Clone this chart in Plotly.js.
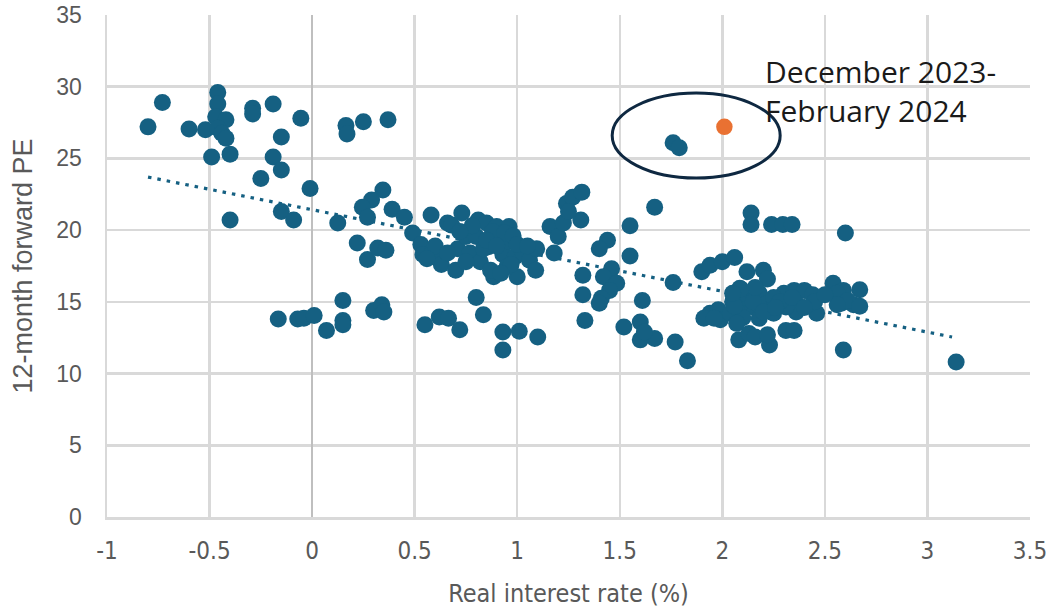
<!DOCTYPE html>
<html>
<head>
<meta charset="utf-8">
<script src="https://cdn.plot.ly/plotly-3.0.1.min.js"></script>
<style>
html,body{margin:0;padding:0;background:#fff;}
#chart{width:1056px;height:613px;}
</style>
</head>
<body>
<div id="chart"></div>
<script>
// Real interest rate (%) per month
const realRate = [
  -0.80,-0.73,-0.60,-0.52,-0.46,-0.46,-0.47,-0.42,-0.46,-0.44,-0.42,-0.49,-0.40,-0.29,-0.29,-0.19,-0.055,-0.15,-0.19,-0.15,
  -0.25,-0.01,-0.15,-0.09,-0.40,0.125,0.165,0.17,0.25,0.37,0.345,0.29,0.245,0.27,0.39,0.45,0.22,0.27,0.32,0.36,
  -0.165,-0.07,-0.04,0.01,0.07,0.15,0.15,0.15,0.30,0.34,0.35,
  0.55,0.62,0.665,0.72,0.80,0.835,0.93,0.93,1.01,1.10,
  0.49,0.53,0.54,0.58,0.59,0.63,0.63,0.66,0.68,0.70,0.73,0.71,0.75,0.77,0.81,0.82,0.85,0.86,0.885,0.90,
  0.92,0.93,0.96,0.965,0.99,1.00,1.03,1.06,1.095,1.09,0.95,0.87,0.80,0.835,
  0.88,0.94,0.85,0.78,0.98,1.00,0.90,0.72,0.60,0.66,0.56,1.05,0.75,0.97,0.92,
  1.18,1.16,1.20,1.225,1.24,1.27,1.315,1.31,1.25,1.32,1.32,1.33,
  1.67,1.55,1.44,1.40,1.55,1.46,1.42,1.485,1.45,1.41,1.40,1.61,1.52,1.60,1.60,1.67,1.77,1.83,1.76,1.62,
  2.14,2.14,2.24,2.295,2.34,2.60,
  1.90,1.94,2.00,2.06,2.12,2.20,2.22,2.085,2.12,2.18,1.94,1.98,1.99,2.04,2.10,2.15,2.22,2.25,2.18,2.30,
  2.35,2.40,2.44,2.36,2.36,2.46,2.31,2.54,2.59,2.67,2.58,2.64,2.08,2.13,2.16,2.23,2.22,2.31,2.35,2.59,
  1.91,1.96,3.14,2.56,2.61,2.67,2.56,
  2.05,2.15,2.25,2.28,2.20,2.10,2.45,2.50,2.06,2.16,2.07,2.26,2.34,2.40,2.09,2.05,
  1.76,1.79
];
// 12-month forward PE per month
const forwardPE = [
  27.2,28.9,27.05,27.0,29.6,28.8,27.9,27.7,27.1,26.75,26.4,25.1,25.3,28.5,28.1,28.8,27.8,26.5,25.1,24.2,
  23.6,22.9,21.3,20.7,20.7,20.5,27.3,26.7,27.55,27.7,22.8,22.1,21.6,20.9,21.45,20.9,19.1,17.95,18.75,18.6,
  13.8,13.8,13.85,14.05,13.0,15.1,13.7,13.4,14.4,14.8,14.3,
  13.4,13.95,13.85,13.05,15.3,14.1,12.9,11.65,12.95,12.55,
  19.8,19.0,18.3,21.05,18.6,18.15,17.6,20.5,20.35,17.2,21.2,18.7,19.55,18.4,20.7,17.8,20.5,18.85,16.75,20.25,
  19.55,18.3,20.25,19.2,18.15,16.75,18.4,17.9,18.7,17.2,17.45,17.2,19.55,18.7,
  19.9,19.8,19.3,20.3,19.6,19.0,18.9,19.9,18.9,18.4,18.0,18.9,17.8,17.6,17.0,
  18.4,20.25,19.55,20.5,21.85,22.3,22.65,20.7,21.3,16.85,15.5,13.7,
  21.6,20.3,19.3,18.7,18.2,17.3,16.75,16.3,15.8,15.25,14.9,15.1,13.25,13.6,12.35,12.45,12.2,10.9,16.35,12.9,
  21.2,20.4,20.4,20.4,20.4,19.8,
  17.1,17.55,17.8,18.1,17.1,17.2,16.6,15.95,15.35,15.6,14.2,14.45,13.75,14.2,14.45,14.65,14.9,14.2,13.85,15.6,
  15.8,15.8,15.5,14.9,14.3,14.2,14.65,16.3,15.8,15.85,14.9,14.8,12.35,12.8,12.55,12.0,12.7,13.0,13.0,11.65,
  13.85,13.85,10.8,15.6,15.1,14.7,14.8,
  15.0,15.0,15.3,15.0,14.3,13.9,15.0,15.5,14.7,16.0,13.5,14.6,15.3,14.6,15.9,15.6,
  26.1,25.75
];
// Highlighted latest period (December 2023 - February 2024)
const latestRate = [2.01];
const latestPE = [27.2];
// Linear trend line end points
const trendRate = [-0.80, 3.12];
const trendPE = [23.7, 12.55];
// Axis ticks
const xTicks = [-1,-0.5,0,0.5,1,1.5,2,2.5,3,3.5];
const xTickText = ['-1','-0.5','0','0.5','1','1.5','2','2.5','3','3.5'];
const yTicks = [0,5,10,15,20,25,30,35];
// Annotation
const noteText = 'December 2023-<br>February 2024';
const ellipseX = [1.463, 2.282];
const ellipseY = [23.63, 29.56];

const blue = '#156082';
const orange = '#E97132';
const gray = '#595959';

const traces = [
  {
    type:'scatter', mode:'lines', x:trendRate, y:trendPE,
    line:{color:blue, width:3.2, dash:'3.5px,6px'}, hoverinfo:'skip', showlegend:false
  },
  {
    type:'scatter', mode:'markers', x:realRate, y:forwardPE,
    marker:{color:blue, size:17, line:{width:0}}, showlegend:false
  },
  {
    type:'scatter', mode:'markers', x:latestRate, y:latestPE,
    marker:{color:orange, size:16.5, line:{width:0}}, showlegend:false
  }
];

const layout = {
  width:1056, height:613,
  margin:{l:107, r:26, t:15, b:96, pad:0},
  paper_bgcolor:'#ffffff', plot_bgcolor:'#ffffff',
  showlegend:false,
  font:{family:'"Liberation Sans", Arial, sans-serif', color:gray},
  xaxis:{
    range:[-1,3.5], tickvals:xTicks, ticktext:xTickText,
    showgrid:true, gridcolor:'#d9d9d9', gridwidth:2.5,
    zeroline:true, zerolinecolor:'#bfbfbf', zerolinewidth:2.5,
    showline:true, linecolor:'#d9d9d9', linewidth:2.5,
    ticks:'', ticklabelstandoff:11,
    tickfont:{family:'"Liberation Sans Narrow","DejaVu Sans Condensed","Roboto Condensed", "Liberation Sans", sans-serif', size:24, color:gray},
    title:{text:'Real interest rate (%)', standoff:20,
      font:{family:'"Liberation Sans Narrow","DejaVu Sans Condensed","Roboto Condensed", "Liberation Sans", sans-serif', size:25, color:gray}},
    fixedrange:true
  },
  yaxis:{
    range:[0,35], tickvals:yTicks,
    showgrid:true, gridcolor:'#d9d9d9', gridwidth:2.5,
    zeroline:false,
    showline:true, linecolor:'#d9d9d9', linewidth:2.5,
    ticks:'', ticklabelstandoff:18,
    tickfont:{family:'"Liberation Sans", Arial, sans-serif', size:23, color:gray},
    title:{text:'12-month forward PE', standoff:16,
      font:{family:'"Liberation Sans", Arial, sans-serif', size:27, color:gray}},
    fixedrange:true
  },
  shapes:[{
    type:'circle', xref:'x', yref:'y',
    x0:ellipseX[0], x1:ellipseX[1], y0:ellipseY[0], y1:ellipseY[1],
    line:{color:'#0e2841', width:3}, fillcolor:'rgba(0,0,0,0)', layer:'above'
  }],
  annotations:[{
    x:2.2, y:29.7, xref:'x', yref:'y', xanchor:'left', yanchor:'middle', align:'left',
    text:noteText, showarrow:false,
    font:{family:'"Open Sans", "Liberation Sans", sans-serif', size:30, color:'#1a1a1a'}
  }]
};

Plotly.newPlot('chart', traces, layout, {displayModeBar:false, staticPlot:true});
</script>
</body>
</html>
